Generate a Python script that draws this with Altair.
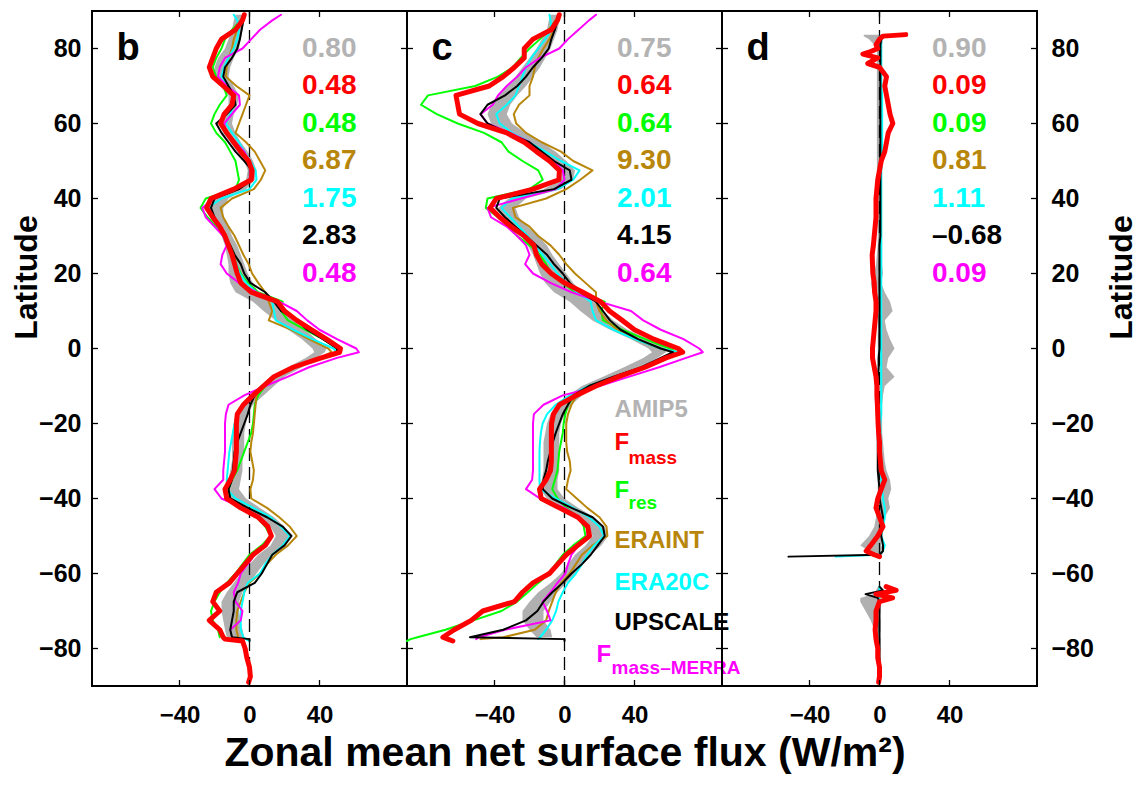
import altair as alt
import pandas as pd

FONT = "Liberation Sans"

# ---------------- latitude grids ----------------
LAT = [89, 87.5, 85, 82.5, 80, 77.5, 75, 72.5, 70, 67.5, 65, 62.5,
       60, 57.5, 55, 52.5, 50, 47.5, 45, 42.5, 40, 37.5, 35, 32.5,
       30, 27.5, 25, 22.5, 20, 17.5, 15, 12.5, 10, 7.5, 5, 2.5,
       0, -1, -2.5, -5, -7.5, -10, -12.5, -15, -17.5, -20, -22.5, -25,
       -27.5, -30, -32.5, -35, -37.5, -40, -42.5, -45, -47.5, -50, -52.5, -55,
       -57.5, -60, -62.5, -65, -67.5, -70, -72.5, -75, -77, -77.5,
       -78, -80, -82.5, -85, -87.5, -89]
N = None

# ---------------- panel b ----------------
AMIP_LO_B = [-8, -9, -10, -12, -14, -18, -20, -20, -16, -12, -12, -15,
             -17, -15, -11, -7, -3, -1, -2, -10, -20, -23, -22, -19,
             -16, -14, -13, -12, -12, -11, -8, 2, 8, 15, 22, 30,
             36, 37, 32, 22, 12, 6, 0, -5, -8, -9, -10, -10,
             -10, -10, -11, -12, -13, -12, -4, 6, 12, 15, 12, 5,
             0, -5, -9, -13, -16, -16, -15, -14, -13, N,
             N, N, N, N, N, N]
AMIP_HI_B = [-2, -3, -4, -5, -6, -9, -11, -12, -9, -6, -7, -9,
             -10, -8, -5, -1, 2, 4, 3, -2, -12, -15, -15, -12,
             -10, -7, -5, -3, -1, 2, 5, 15, 18, 25, 32, 38,
             44, 43, 38, 30, 20, 14, 8, 2, -1, -2, -3, -3,
             -3, -4, -4, -5, -6, -2, 6, 14, 20, 23, 20, 13,
             8, 4, 0, -4, -6, -6, -5, -4, -3, N,
             N, N, N, N, N, N]
FMASS_B = [-3, -4, -8, -16, -19, -21, -23, -21, -15, -9, -10, -14.5,
           -16.5, -13, -9, -5, -0.5, 1.5, 1, -9, -22, -24.5, -21, -17,
           -14, -12, -10, -8.5, -7, -5, 1, 16, 20, 27, 35.5, 44,
           52, 51.5, 41, 25, 14, 8, 2, -3.5, -7, -7.5, -7.5, -7.5,
           -7.5, -8, -8.5, -11, -14, -13, -5, 5, 10.5, 12.5, 9, 2,
           -2.5, -7, -11.5, -19, -21, -17, -23, -17, -15, -14,
           -4, -2.5, -1.5, 0, 0.5, -0.5]
FRES_B = [-3, -5, -10, -14, -16, -19, -21, -19, -15, -13, -17, -20,
          -22, -19, -14, -11, -8, -7, -6, -8, -25, -28, -24, -19,
          -14, -11, -9, -7.5, -5, -1, 5, 19, 18, 22, 32, 42,
          50, 50, 40, 26, 15, 9, 5, 3, 2.5, 2, 1, -1,
          -3, -5, -7, -10, -12, -11, -3, 4, 9, 12, 7, 0,
          -4, -8, -13, -17, -20, -22, -21, -18, -17, N,
          N, N, N, N, N, N]
ERAINT_B = [-3, -5, -7, -9, -10, -12, -13, -13.5, -7.5, 0, -2, -4,
            -6, -8, -2, 3, 6, 9, 6.5, 2.5, -10, -16.5, -15, -12,
            -8.5, -6, -3.5, -0.5, 1.5, 5, 9, 11, 13, 11, 24, 34,
            45, 47, 40, 25, 14, 7, 4, 3.5, 3, 2.5, 2, 1,
            0.5, 1.5, 2.5, 2, 0.5, 1, 10, 17, 23, 27, 22, 15,
            10, 6, 0, -3, -5, -7, -7.5, -7.5, -6.5, N,
            N, N, N, N, N, N]
ERA20C_B = [-9, -7, -6, -7, -9, -12, -14.5, -16, -12, -9, -9, -11,
            -13.5, -10, -6, -3, 0.5, 3.5, 4, 0, -16, -24, -22, -18,
            -15, -12.5, -10, -7.5, -5.5, -2, 4, 13, 14, 15, 25, 36,
            48, 50, 40, 26, 15, 7, 1, -4, -6.5, -8.5, -9.5, -10.5,
            -11.5, -12, -12.5, -13, -13, -8, 2, 12, 18, 23, 19, 13,
            9, 6, -1, -3, -4, -5, -5, -5, -3.5, -2,
            0, N, N, N, N, N]
UPSCALE_B = [-3, -3.5, -4.5, -5.5, -7, -10, -14, -15, -12, -9, -8, -13,
             -19, -16, -12, -8, -3, 1.5, 1.5, -6, -20, -22, -20, -17,
             -14, -11, -8.5, -5, -3, 0.5, 9, 14, 18, 27, 33, 42,
             50, 50, 40, 26, 15, 8, 3, 0.5, -1, -3, -5, -7,
             -8.5, -9, -9.5, -10, -12, -11, -1, 10, 19, 24, 20, 13,
             10, 7, 3, -7, -9, -9, -10, -11, -10, 0,
             0, N, N, N, N, N]
MERRA_B = [18, 13, 6, 1, -4, -14, -17, -18, -13, -6, -5.5, -10,
           -14.5, -13, -8, -3, 0, 0.5, 0, -8, -20, -27, -25, -20,
           -15, -13, -15.5, -16.5, -13, -6, 4, 17, 27, 33, 40, 50,
           61, 62.5, 50, 34, 22, 9, -3, -12, -13.5, -14, -14, -14,
           -14, -14.5, -15, -15, -20, -16, -4, 4, 10, 13, 9, 3,
           -1, -5, -6.5, -9, -8, -4, -5, -11, N, N,
           N, N, N, N, N, N]

# ---------------- panel c ----------------
AMIP_LO_C = [-8, -9, -10, -13, -16, -20, -24, -28, -33, -38, -42, -44,
             -42, -33, -23, -14, -8, -2, -2, -12, -32, -38, -35, -30,
             -25, -21, -18, -16, -14, -11, -6, 3, 9, 16, 26, 38,
             48, 50, 45, 34, 22, 10, 2, -4, -8, -10, -11, -12,
             -12, -12, -12, -13, -14, -10, -2, 8, 14, 16, 12, 6,
             2, -2, -8, -15, -20, -24, -24, -20, -16, N,
             N, N, N, N, N, N]
AMIP_HI_C = [-2, -3, -4, -6, -8, -11, -14, -18, -22, -27, -31, -33,
             -30, -22, -13, -5, 1, 6, 5, -2, -22, -28, -26, -21,
             -15, -10, -7, -3, 1, 5, 10, 18, 22, 28, 36, 48,
             58, 58, 53, 44, 32, 20, 10, 4, 0, -2, -3, -3,
             -3, -3, -3, -4, -4, 0, 8, 17, 23, 25, 21, 15,
             10, 6, 1, -4, -8, -12, -12, -8, -7, N,
             N, N, N, N, N, N]
FMASS_C = [-3, -4, -7.6, -18, -23, -23, -28.6, -35, -43, -62, -61, -60,
           -49.5, -33, -23, -16, -8.6, -2.9, -3.2, -18, -39, -42.5, -37, -30.5,
           -23, -17.5, -16, -13, -7.6, 0, 10.5, 20.6, 25.7, 33, 40, 51,
           65, 67.5, 58, 46, 31, 18, 6.7, -2.9, -6.3, -7.4, -7.5, -7.5,
           -7.5, -7.5, -8, -10.5, -14.3, -13.3, -2.9, 7.6, 13.3, 14.3, 7.6, 1,
           -3.8, -8.6, -18, -24, -28.6, -46.7, -53.3, -63, -69.5, -66.7,
           -63.8, N, N, N, N, N]
FRES_C = [-3, -5, -9, -14, -20, -25, -29.5, -38, -51, -78, -82, -73,
          -61, -46, -36, -32, -24, -15, -12.4, -20, -44, -45, -38, -32,
          -27, -20, -14, -10.5, -7.5, -1, 6, 23, 21, 22, 33, 46,
          60, 64, 58, 45, 30, 14, 6, 2, 0.5, -0.5, -1, -2,
          -3, -3.5, -4, -5.5, -7, -4, 1, 8, 11, 12, 5, -1,
          -5, -8.6, -15, -21, -27, -36, -52, -68, -84, -88,
          -90, N, N, N, N, N]
ERAINT_C = [-3, -4, -6, -8.6, -12, -15, -17, -18, -20, -20, -26, -29,
            -27.6, -22, -13, -2, 5, 16, 9, 1, -10.5, -29.5, -28, -20,
            -15, -8, -3, 1, 6, 12, 18, 18, 20, 24, 30, 40,
            55, 63, 58, 45, 30, 16, 7, 4, 2, 1, 1, 1,
            1.5, 3, 3.5, 2, 1, 7, 13, 20, 24, 24.5, 16, 10,
            6.5, 3, -2, -5, -7, -9, -10.5, -17, -35, -48,
            N, N, N, N, N, N]
ERA20C_C = [-8.6, -8, -7.5, -11, -15, -19, -22, -24, -26, -28, -33, -39,
            -37, -30, -20, -11, -2, 8.6, 5, -4, -30, -36, -31, -26,
            -21, -17, -12.5, -8, -4, 1, 7, 15, 16, 18, 28, 40,
            55, 65, 58, 45, 30, 14, 3, -5, -10, -12.5, -13.5, -14,
            -14.3, -14.3, -14.3, -14.3, -14, -5, 5, 14, 20, 22.5, 17, 13,
            10, 6.5, 2, -1, -3.5, -4.8, -7, -10.5, -14, -15,
            N, N, N, N, N, N]
UPSCALE_C = [-3, -4, -5.5, -7.5, -9, -13, -18, -22, -27, -34, -44, -48,
             -44, -33, -20, -13, -6, 3, 4, -6, -37, -39, -34, -28,
             -22, -16, -10, -6, -1, 3, 9, 18, 22, 26, 32, 42,
             55, 62, 55, 44, 28, 14, 5, 2, -1, -3, -5, -6.7,
             -8, -9.5, -10.5, -12, -12.4, -7, 4, 16, 22, 23, 19, 15,
             10, 4, -1, -7, -12, -15.5, -22, -35, -54, 0,
             0, N, N, N, N, N]
MERRA_C = [18, 14, 8, 2, -3, -14, -22, -27, -33, -38, -41, -48,
           -44, -31, -20, -14, -6, -1, 0, -5, -25, -44, -42, -33,
           -27, -22, -20, -22.5, -18, -8, 4, 20, 38, 45, 55, 68,
           77, 79, 69.5, 54, 37, 20, -1, -12, -17.5, -18, -18, -18,
           -18, -18, -18, -18.5, -22, -14, 0, 8.6, 13, 13, 8, 4,
           2, 0.5, -4, -8, -12.5, -10, -8, -34, -49, -50.5,
           N, N, N, N, N, N]

# ---------------- panel d (differences) ----------------
LAT_D = [83.7, 83.3, 82.5, 81, 80, 79, 78.5, 77.5, 76, 75, 72.5, 70,
         67.5, 65, 62.5, 60, 57.5, 55, 52.5, 50, 47.5, 45, 42.5, 40,
         37.5, 35, 32.5, 30, 27.5, 25, 22.5, 20, 17.5, 15, 12.5, 10,
         7.5, 5, 2.5, 0, -2.5, -5, -7.5, -10, -12.5, -15, -17.5, -20,
         -22.5, -25, -27.5, -30, -32.5, -35, -37.5, -40, -42.5, -45, -47.5, -50,
         -52.5, -54, -55, -55.5, -56, -63.5, -64.5, -65.5, -66.5, -67.5, -70, -72.5,
         -75, -77.5, -80, -82.5, -85, -87.5, -89]
AMIP_LO_D = [-9, -9, -6, -3, -2, -1.5, -1.5, -1.5, -1.5, -1.5, -1.5, -1.5,
             -1.5, -1.5, -1.5, -1.5, -1.5, -1.5, -1.5, -1.5, -1.5, -1.5, -1.5, -1.5,
             -1, -1, -1, -1, -1, -1.5, -2, -3, -5, -4, -2, -1,
             -1, -1, -1, -1, -1, -1, -1, -1, -1, -1, -1, -1,
             -1, -1, -1, -1, -1, -1, -1, -1, -1.5, -2, -3, -6,
             -11, -6, -1.5, -1, N, -1, -2, -4, -11, -11, -8, -5,
             -3, -1, N, N, N, N, N]
AMIP_HI_D = [2, 2, 2, 1.5, 1.5, 1.5, 1.5, 1.5, 1.5, 1.5, 1.5, 1.5,
             1.5, 1.5, 1.5, 1.5, 1.5, 1.5, 1.5, 1.5, 1.5, 1.5, 1.5, 1.5,
             1.5, 1.5, 1.5, 1.5, 1.5, 1.5, 1.5, 2, 1, 3, 6, 7.5,
             3, 4, 6, 8.6, 5, 4, 8.6, 3, 2, 1.5, 1.5, 1.5,
             1.5, 2, 2.5, 3, 4, 6, 6.7, 5, 6, 3, 2, 1,
             1, 2, 1.5, 1, N, 1, 1, 0.5, 0, 0, 0, 0,
             0, 0, N, N, N, N, N]
FMASS_D = [15, 2, 0, -2, -1, -6, -9.5, -1, -6.7, 0, 4, 3,
           4, 5, 6, 7.6, 5, 4, 3, 1, 0, -1, -1.5, -2,
           -2, -2, -2.5, -3, -3.5, -4.2, -4, -3.8, -3, -2.8, -2, -2,
           -2.5, -3, -3.5, -4, -4, -3, -2, -1.5, -1.5, -1.2, -1, -0.8,
           -0.5, 0, 0, 0.5, 1, 3, 1, -1, -2, 0, 2, -1,
           -5, -7.6, -3, 0, N, 3.8, 9.5, -2, 7.5, 0, -2, -2,
           -2.5, -2, -1, -1, 0, 0, -0.5]
UPSCALE_D = [N, 1, 1, 0.5, 0.5, 0.5, 0.5, 0.5, 0.5, 0.5, 0.5, 0.5,
             0.5, 0.5, 0.5, 0.5, 0.5, 0.5, 0.5, 0.5, 0.5, 0.5, 0.5, 0.5,
             0.5, 0.5, 0.5, 0.5, 0, 0, 0, 0, 0, 0, 0, 0,
             0, 0, 0, 0, -0.5, -0.5, -1, -1, -1, -1, -1, -1,
             -1, -1, -1, -1, -1, -0.5, 0, 0, 1, 2, 1, 1,
             2, 2, 0, -52, N, 0, 2, -8, -1, 0, 0, 0,
             0, 0, 0, 0, 0, 0, N]
ERA20C_D = [N, 0.5, 1, 1, 1, 1, 1, 1, 1, 1, 1, 1,
            1.5, 1.5, 1.5, 1.5, 1.5, 1.5, 1.5, 1.5, 1, 1, 1, 1,
            1, 1, 1, 1, 1, 1, 1, 1, 1, 1, 1, 1,
            1, 1, 1, 1, 1, 1, 1, 1, 1, 1, 1, 0.5,
            0.5, 0.5, 0.5, 0.5, 0.5, 1, 1.5, 2, 3, 3, 2, 1,
            3, 2, 0, -25, N, 0, 0, 0, 0, 0, N, N,
            N, N, N, N, N, N, N]

# ---------------- annotations ----------------
NUM_LAT = [80, 70, 60, 50, 40, 30, 20]
NUMS_B = ["0.80", "0.48", "0.48", "6.87", "1.75", "2.83", "0.48"]
NUMS_C = ["0.75", "0.64", "0.64", "9.30", "2.01", "4.15", "0.64"]
NUMS_D = ["0.90", "0.09", "0.09", "0.81", "1.11", "\u20130.68", "0.09"]
SERIES_COLORS = ["#b3b3b3", "#ff0000", "#00ff00", "#b8860b", "#00ffff", "#000000", "#ff00ff"]

LEG_MAIN = ["AMIP5", "F", "F", "ERAINT", "ERA20C", "UPSCALE", "F"]
LEG_MAIN_X = [28.6, 28.6, 28.6, 28.6, 28.6, 28.6, 18.3]
LEG_MAIN_LAT = [-16.5, -25.3, -37.9, -51.2, -62.4, -73.3, -81.6]
LEG_SUB = ["mass", "res", "mass\u2013MERRA"]
LEG_SUB_X = [36.6, 36.6, 26.9]
LEG_SUB_LAT = [-29.1, -41.1, -85.3]
LEG_SUB_COLORS = ["#ff0000", "#00ff00", "#ff00ff"]

TICK_Y = [-80, -60, -40, -20, 0, 20, 40, 60, 80]
TICK_X = [-40, 0, 40]

W, H = 315, 675
GRAY = "#b0b0b0"


def series_df(lats, vals):
    rows, seg = [], 0
    for i, (la, v) in enumerate(zip(lats, vals, strict=True)):
        if v is None:
            seg += 1
            continue
        rows.append({"lat": la, "x": v, "seg": seg, "i": i})
    return pd.DataFrame(rows)


def band_df(lats, lo, hi):
    rows, seg = [], 0
    for i, (la, a, b) in enumerate(zip(lats, lo, hi, strict=True)):
        if a is None or b is None:
            seg += 1
            continue
        rows.append({"lat": la, "lo": a, "hi": b, "seg": seg, "i": i})
    return pd.DataFrame(rows)


def make_panel(letter, lats, lo, hi, series, nums, y_axis, x_title, legend=False):
    xscale = alt.Scale(domain=[-90, 90], nice=False, zero=False)
    yscale = alt.Scale(domain=[-90, 90], nice=False, zero=False)
    xaxis = alt.Axis(values=TICK_X, format="d", labelFontSize=24, labelFontWeight="bold",
                     labelColor="black", labelPadding=17, ticks=False, tickSize=0,
                     domain=False, grid=False, title=x_title, titleFontSize=41,
                     titleFontWeight="bold", titleColor="black", titlePadding=6)

    def X(f):
        return alt.X(f"{f}:Q", scale=xscale, axis=xaxis)

    Y = alt.Y("lat:Q", scale=yscale, axis=y_axis)

    layers = []
    layers.append(alt.Chart(band_df(lats, lo, hi)).mark_area(orient="horizontal", color=GRAY)
                  .encode(y=Y, x=X("lo"), x2="hi:Q", detail="seg:N"))
    layers.append(alt.Chart(pd.DataFrame({"x": [0]})).mark_rule(
        color="black", strokeDash=[13, 6], strokeWidth=1.3).encode(x=X("x")))
    for vals, color, width in series:
        layers.append(alt.Chart(series_df(lats, vals)).mark_line(
            color=color, strokeWidth=width, strokeJoin="round", strokeCap="round")
            .encode(x=X("x"), y=Y, order="i:Q", detail="seg:N"))
    # inward ticks
    ty = pd.DataFrame({"lat": TICK_Y})
    tx = pd.DataFrame({"x": TICK_X})
    layers.append(alt.Chart(ty).mark_rule(color="black", strokeWidth=1.3)
                  .encode(y=Y, x=alt.value(0), x2=alt.value(6)))
    layers.append(alt.Chart(ty).mark_rule(color="black", strokeWidth=1.3)
                  .encode(y=Y, x=alt.value(W - 6), x2=alt.value(W)))
    layers.append(alt.Chart(tx).mark_rule(color="black", strokeWidth=1.3)
                  .encode(x=X("x"), y=alt.value(0), y2=alt.value(6)))
    layers.append(alt.Chart(tx).mark_rule(color="black", strokeWidth=1.3)
                  .encode(x=X("x"), y=alt.value(H - 6), y2=alt.value(H)))
    # statistics
    ndf = pd.DataFrame({"x": [30] * 7, "lat": NUM_LAT, "label": nums, "color": SERIES_COLORS})
    layers.append(alt.Chart(ndf).mark_text(align="left", baseline="middle", fontSize=28,
                                           fontWeight="bold")
                  .encode(x=X("x"), y=Y, text="label:N", color=alt.Color("color:N", scale=None)))
    # panel letter
    ldf = pd.DataFrame({"x": [-76], "lat": [80], "label": [letter]})
    layers.append(alt.Chart(ldf).mark_text(align="left", baseline="middle", fontSize=38,
                                           fontWeight="bold", color="black")
                  .encode(x=X("x"), y=Y, text="label:N"))
    if legend:
        mdf = pd.DataFrame({"x": LEG_MAIN_X, "lat": LEG_MAIN_LAT, "label": LEG_MAIN,
                            "color": SERIES_COLORS})
        layers.append(alt.Chart(mdf).mark_text(align="left", baseline="middle", fontSize=24,
                                               fontWeight="bold")
                      .encode(x=X("x"), y=Y, text="label:N",
                              color=alt.Color("color:N", scale=None)))
        sdf = pd.DataFrame({"x": LEG_SUB_X, "lat": LEG_SUB_LAT, "label": LEG_SUB,
                            "color": LEG_SUB_COLORS})
        layers.append(alt.Chart(sdf).mark_text(align="left", baseline="middle", fontSize=19,
                                               fontWeight="bold")
                      .encode(x=X("x"), y=Y, text="label:N",
                              color=alt.Color("color:N", scale=None)))
    return alt.layer(*layers).properties(width=W, height=H)


def lat_axis(orient, title_x, align, pad):
    return alt.Axis(orient=orient, values=TICK_Y, format="d", labelFontSize=25,
                    labelFontWeight="bold", labelColor="black", labelPadding=pad,
                    labelAlign=align, ticks=False, tickSize=0, domain=False, grid=False,
                    title="Latitude", titleFontSize=32, titleFontWeight="bold",
                    titleColor="black", titleAngle=270, titleX=title_x, titleY=266,
                    titleAlign="center", titleBaseline="middle")


def sets(fmass, fres, eraint, era20c, upscale, merra):
    out = []
    if fres is not None:
        out.append((fres, "#00ff00", 2))
    if eraint is not None:
        out.append((eraint, "#b8860b", 2))
    if era20c is not None:
        out.append((era20c, "#00ffff", 2))
    if merra is not None:
        out.append((merra, "#ff00ff", 2))
    out.append((upscale, "#000000", 2))
    out.append((fmass, "#ff0000", 5))
    return out


panel_b = make_panel("b", LAT, AMIP_LO_B, AMIP_HI_B,
                     sets(FMASS_B, FRES_B, ERAINT_B, ERA20C_B, UPSCALE_B, MERRA_B),
                     NUMS_B, lat_axis("left", -66, "right", 11), "")
panel_c = make_panel("c", LAT, AMIP_LO_C, AMIP_HI_C,
                     sets(FMASS_C, FRES_C, ERAINT_C, ERA20C_C, UPSCALE_C, MERRA_C),
                     NUMS_C, None, "Zonal mean net surface flux (W/m\u00b2)", legend=True)
panel_d = make_panel("d", LAT_D, AMIP_LO_D, AMIP_HI_D,
                     sets(FMASS_D, None, None, ERA20C_D, UPSCALE_D, None),
                     NUMS_D, lat_axis("right", 84, "left", 14), "")

chart = alt.hconcat(panel_b, panel_c, panel_d, spacing=0, bounds="flush").properties(
    padding={"left": 1, "top": 1, "right": 0, "bottom": 0}
).configure(font=FONT).configure_view(stroke="black", strokeWidth=2)

chart.save("out.html", embed_options={"renderer": "svg", "actions": False})
